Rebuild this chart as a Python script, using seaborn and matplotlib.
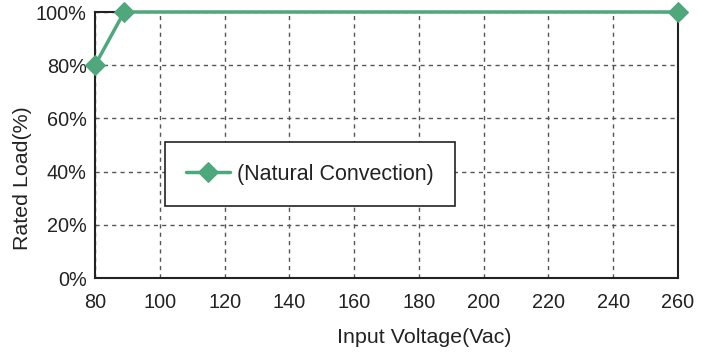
import matplotlib
matplotlib.use("Agg")
import matplotlib.pyplot as plt
import seaborn as sns
import pandas as pd

# Derating curve data
voltage = [80, 89, 260]
load = [80, 100, 100]
series_name = "(Natural Convection)"
x_ticks = [80, 100, 120, 140, 160, 180, 200, 220, 240, 260]
y_ticks = [0, 20, 40, 60, 80, 100]
y_labels = ["0%", "20%", "40%", "60%", "80%", "100%"]

sns.set_theme(style="white")
plt.rcParams["font.family"] = ["Liberation Sans", "DejaVu Sans"]

df = pd.DataFrame({"Input Voltage(Vac)": voltage, "Rated Load(%)": load,
                   "series": series_name})

fig = plt.figure(figsize=(7.06, 3.52), dpi=100)
ax = fig.add_axes([0.1346, 0.2102, 0.8257, 0.7557])

green = "#4fa87b"
sns.lineplot(data=df, x="Input Voltage(Vac)", y="Rated Load(%)", hue="series",
             palette=[green], marker="D", markersize=10, linewidth=2.5,
             markeredgecolor=green, ax=ax, zorder=5, clip_on=False)

ax.set_xlim(80, 260)
ax.set_ylim(0, 100)
ax.set_xticks(x_ticks)
ax.set_yticks(y_ticks)
ax.set_yticklabels(y_labels)
ax.tick_params(axis="both", labelsize=14.3, colors="#222222", length=0)
ax.tick_params(axis="x", pad=11)
ax.tick_params(axis="y", pad=6)
ax.grid(True, linestyle=(0, (3, 3)), color="#555555", linewidth=1)
for s in ax.spines.values():
    s.set_color("#222222")
    s.set_linewidth(1.5)
ax.set_xlabel("Input Voltage(Vac)", fontsize=15.4, color="#222222")
ax.set_ylabel("Rated Load(%)", fontsize=15.4, color="#222222")
ax.xaxis.set_label_coords(0.564, -0.222)
ax.yaxis.set_label_coords(-0.125, 0.376)
ax.xaxis.label.set_va("center")
ax.yaxis.label.set_va("center")

leg = ax.legend(title=None, loc="upper left", bbox_to_anchor=(0.1195, 0.511),
                fontsize=15.5, frameon=True, fancybox=False, borderpad=1.0,
                handlelength=2.05, handletextpad=0.3, borderaxespad=0)
leg.get_frame().set_edgecolor("#222222")
leg.get_frame().set_linewidth(1.2)
leg.get_frame().set_alpha(1)
for t in leg.get_texts():
    t.set_color("#222222")

fig.savefig("out.png", dpi=100)
